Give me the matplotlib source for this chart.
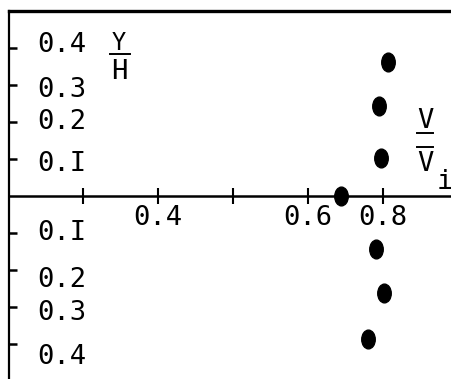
import matplotlib
matplotlib.use('Agg')
import matplotlib.pyplot as plt
from matplotlib.path import Path
from matplotlib.transforms import ScaledTranslation, Affine2D

# ---- data ----
v_ratio = [0.707, 0.695, 0.697, 0.644, 0.691, 0.701, 0.680]
y_over_h = [0.362, 0.243, 0.102, 0.0, -0.143, -0.262, -0.385]

x_ticks = [0.3, 0.4, 0.5, 0.6, 0.7]
x_tick_labels = ['', '0.4', '', '0.6', '0.8']
y_ticks = [0.4, 0.3, 0.2, 0.1, -0.1, -0.2, -0.3, -0.4]
y_tick_labels = ['0.4', '0.3', '0.2', '0.I', '0.I', '0.2', '0.3', '0.4']

plt.rcParams['font.family'] = ['DejaVu Sans Mono']

W, H = 452, 379
fig = plt.figure(figsize=(W / 100, H / 100), dpi=100)
ax = fig.add_axes([9 / W, 0, 443 / W, 368 / H])
ax.set_xlim(0.2013, 0.792)
ax.set_ylim(-0.4933, 0.4987)

# oval markers
ellipse = Path.unit_circle().transformed(Affine2D().scale(0.72, 1.0))
ax.plot(v_ratio, y_over_h, linestyle='none', marker=ellipse, markersize=13.5,
        color='black', zorder=5, clip_on=False)

# spines
ax.spines['right'].set_visible(False)
ax.spines['top'].set_linewidth(2.4)
ax.spines['left'].set_linewidth(1.6)
ax.spines['bottom'].set_position(('data', 0))
ax.spines['bottom'].set_linewidth(1.8)
ax.xaxis.set_ticks_position('bottom')
ax.yaxis.set_ticks_position('left')

# x ticks
ax.set_xticks(x_ticks)
ax.set_xticklabels(x_tick_labels)
ax.tick_params(axis='x', direction='inout', length=11.5, width=1.5, pad=1.0,
               labelsize=19.5, colors='black')

# y ticks (labels inside the frame)
ax.set_yticks(y_ticks)
ax.set_yticklabels(y_tick_labels)
ax.tick_params(axis='y', direction='in', length=6, width=1.8, pad=-20.2,
               labelsize=19.5, colors='black')
label_dy_px = [-6, 2, -3, 2, -3, 7, 3, 10]
for lbl, dy in zip(ax.get_yticklabels(), label_dy_px):
    lbl.set_horizontalalignment('left')
    lbl.set_transform(lbl.get_transform() +
                      ScaledTranslation(0, -dy / 100, fig.dpi_scale_trans))

# axis name fractions
ax.text(0.348, 0.420, 'Y', ha='center', va='center_baseline', fontsize=17)
ax.plot([0.336, 0.3627], [0.383, 0.383], color='black', lw=1.4)
ax.text(0.348, 0.342, 'H', ha='center', va='center_baseline', fontsize=19.5)

ax.text(0.756, 0.2116, 'V', ha='center', va='center_baseline', fontsize=19.5)
ax.plot([0.7453, 0.7667], [0.170, 0.170], color='black', lw=1.4)
ax.plot([0.7453, 0.7667], [0.132, 0.132], color='black', lw=1.4)
ax.text(0.756, 0.094, 'V', ha='center', va='center_baseline', fontsize=19.5)
ax.text(0.783, 0.046, 'i', ha='center', va='center_baseline', fontsize=19.5)

fig.savefig('out.png', dpi=100, facecolor='white')
